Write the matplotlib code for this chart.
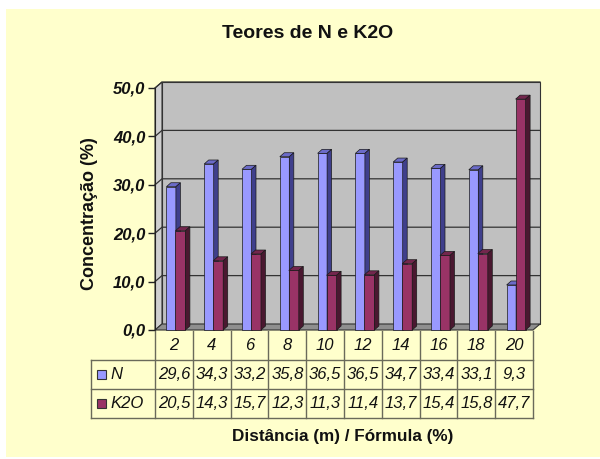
import matplotlib
matplotlib.use('Agg')
import matplotlib.pyplot as plt
from matplotlib.patches import Rectangle, Polygon
import numpy as np

categories = ['2', '4', '6', '8', '10', '12', '14', '16', '18', '20']
n_values = [29.6, 34.3, 33.2, 35.8, 36.5, 36.5, 34.7, 33.4, 33.1, 9.3]
k2o_values = [20.5, 14.3, 15.7, 12.3, 11.3, 11.4, 13.7, 15.4, 15.8, 47.7]
series_names = ['N', 'K2O']
y_ticks = [0, 10, 20, 30, 40, 50]
title = 'Teores de N e K2O'
ylabel = 'Concentração (%)'
xlabel = 'Distância (m) / Fórmula (%)'

plt.rcParams['font.family'] = ['Liberation Sans', 'DejaVu Sans']

W, H = 600, 459
fig = plt.figure(figsize=(6, 4.59), dpi=100)
fig.patch.set_facecolor('white')
fig.patches.append(Rectangle((6 / W, (H - 457) / H), (W - 6) / W, (457 - 9) / H,
                             transform=fig.transFigure, facecolor='#FFFFCC',
                             edgecolor='none', zorder=-5))


def px_axes(x0, y0, x1, y1):
    return fig.add_axes([x0 / W, (H - y1) / H, (x1 - x0) / W, (y1 - y0) / H])


def fmt(v):
    return f'{v:.1f}'.replace('.', ',')


AX_L, AX_T, AX_R, AX_B = 155, 88, 533, 330
ncat = len(categories)
ax = px_axes(AX_L, AX_T, AX_R, AX_B)
ax.set_xlim(0, ncat)
ax.set_ylim(0, 50)
ax.patch.set_visible(False)
for s in ['top', 'right', 'bottom']:
    ax.spines[s].set_visible(False)
ax.spines['left'].set_color('#222222')
ax.spines['left'].set_zorder(6)
ax.set_xticks([])
ax.set_yticks(y_ticks)
ax.set_yticklabels([fmt(v) for v in y_ticks], fontsize=12,
                   fontweight='bold', fontstyle='italic', color='#111111')
ax.tick_params(axis='y', length=5, width=1, color='#222222', pad=2)

ppx = (AX_R - AX_L) / ncat
ppy = (AX_B - AX_T) / 50
dxw, dyw = 7 / ppx, 6 / ppy
ymax = 50
edge = '#333333'

# back wall
ax.add_patch(Polygon([(dxw, dyw), (ncat + dxw, dyw), (ncat + dxw, ymax + dyw), (dxw, ymax + dyw)],
                     closed=True, facecolor='#C0C0C0', edgecolor=edge, lw=0.8,
                     clip_on=False, zorder=1))
# side wall
ax.add_patch(Polygon([(0, 0), (dxw, dyw), (dxw, ymax + dyw), (0, ymax)],
                     closed=True, facecolor='#CFCFCF', edgecolor=edge, lw=0.8,
                     clip_on=False, zorder=1))
# floor
ax.add_patch(Polygon([(0, 0), (ncat, 0), (ncat + dxw, dyw), (dxw, dyw)],
                     closed=True, facecolor='#8F8F8F', edgecolor=edge, lw=0.8,
                     clip_on=False, zorder=1))
for v in y_ticks[1:]:
    ax.plot([0, dxw, ncat + dxw], [v, v + dyw, v + dyw], color='#333333', lw=0.9,
            clip_on=False, zorder=2)

xs = np.arange(ncat) + 0.5
bdx, bdy = 4.5 / ppx, 4 / ppy
series = [
    (n_values, -7.5 / ppx, 9.5 / ppx, '#9999FF', '#6B6BC8', '#3F3F8C', 3),
    (k2o_values, 1.5 / ppx, 10 / ppx, '#993366', '#73264D', '#4A1830', 4),
]
for vals, off, wid, cf, ct, cs, z in series:
    lefts = xs + off
    ax.bar(lefts, vals, width=wid, align='edge', color=cf, edgecolor='#1A1A1A',
           lw=0.5, zorder=z, clip_on=False)
    for x0, v in zip(lefts, vals):
        x1 = x0 + wid
        ax.add_patch(Polygon([(x0, v), (x0 + bdx, v + bdy), (x1 + bdx, v + bdy), (x1, v)],
                             closed=True, facecolor=ct, edgecolor='#1A1A1A', lw=0.5,
                             zorder=z, clip_on=False))
        ax.add_patch(Polygon([(x1, 0), (x1 + bdx, bdy), (x1 + bdx, v + bdy), (x1, v)],
                             closed=True, facecolor=cs, edgecolor='#1A1A1A', lw=0.5,
                             zorder=z, clip_on=False))

# data table
TL, TT, TB = 91, 331, 418
tx = px_axes(TL, TT, AX_R, TB)
xl = -(AX_L - TL) / ppx
tx.set_xlim(xl, ncat)
tx.set_ylim(3, 0)
tx.axis('off')
lc = '#6A6A5A'
for r in [1, 2, 3]:
    tx.plot([xl, ncat], [r, r], color=lc, lw=1, clip_on=False)
for c in range(ncat + 1):
    tx.plot([c, c], [0, 3], color=lc, lw=1, clip_on=False)
tx.plot([xl, xl], [1, 3], color=lc, lw=1, clip_on=False)
tfont = dict(fontsize=12, fontstyle='italic', ha='center', va='center', color='#111111')
for i, cat in enumerate(categories):
    tx.text(i + 0.5, 0.5, cat, **tfont)
    tx.text(i + 0.5, 1.5, fmt(n_values[i]), **tfont)
    tx.text(i + 0.5, 2.5, fmt(k2o_values[i]), **tfont)
key_cols = ['#9999FF', '#993366']
kx = xl + 6 / ppx
kw = 9 / ppx
for r, (name, kc) in enumerate(zip(series_names, key_cols)):
    tx.add_patch(Rectangle((kx, r + 1.5 - 0.16), kw, 0.32, facecolor=kc,
                           edgecolor='#333333', lw=0.8, clip_on=False))
    tx.text(kx + kw + 4 / ppx, r + 1.5, name, fontsize=12, fontstyle='italic',
            ha='left', va='center', color='#111111')

fig.text(308 / W, 1 - 34 / H, title, ha='center', va='center', fontsize=14,
         fontweight='bold', color='#111111')
fig.text(90 / W, 1 - 214 / H, ylabel, ha='center', va='center', fontsize=13,
         fontweight='bold', rotation=90, color='#111111')
fig.text(343 / W, 1 - 436 / H, xlabel, ha='center', va='center', fontsize=12.3,
         fontweight='bold', color='#111111')

fig.savefig('out.png', dpi=100)
